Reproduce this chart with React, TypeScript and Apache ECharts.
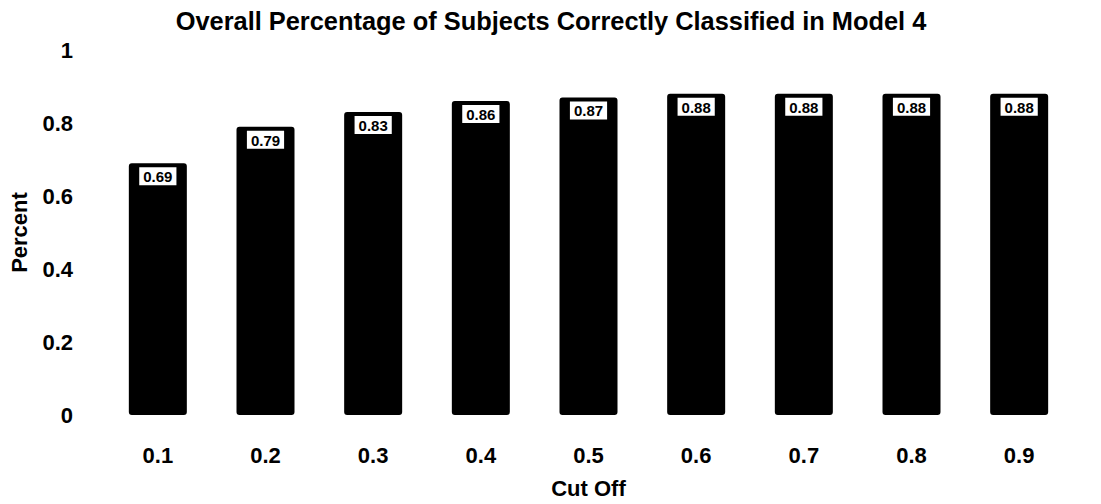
import React, { useEffect, useRef } from "react";
import * as echarts from "echarts";

const chartTitle = "Overall Percentage of Subjects Correctly Classified in Model 4";
const cutOffs = ["0.1", "0.2", "0.3", "0.4", "0.5", "0.6", "0.7", "0.8", "0.9"];
const percentCorrect = [0.69, 0.79, 0.83, 0.86, 0.87, 0.88, 0.88, 0.88, 0.88];
const xAxisName = "Cut Off";
const yAxisName = "Percent";

const FONT = '"Liberation Sans", Arial, Helvetica, sans-serif';

export default function App() {
  const ref = useRef<HTMLDivElement | null>(null);

  useEffect(() => {
    if (!ref.current) return;
    const chart = echarts.init(ref.current, undefined, { renderer: "svg" });
    chart.setOption({
      animation: false,
      backgroundColor: "#ffffff",
      title: {
        text: chartTitle,
        left: 546,
        top: 3,
        textAlign: "center",
        textStyle: {
          fontFamily: FONT,
          fontWeight: "bold",
          fontSize: 25.4,
          color: "#000",
        },
      },
      grid: { left: 93, right: 28, top: 50, bottom: 79 },
      xAxis: {
        type: "category",
        data: cutOffs,
        name: xAxisName,
        nameLocation: "middle",
        nameGap: 62,
        nameTextStyle: {
          fontFamily: FONT,
          fontWeight: "bold",
          fontSize: 22,
          color: "#000",
        },
        axisLine: { show: false },
        axisTick: { show: false },
        axisLabel: {
          margin: 29,
          fontFamily: FONT,
          fontWeight: "bold",
          fontSize: 22,
          color: "#000",
        },
      },
      yAxis: {
        type: "value",
        min: 0,
        max: 1,
        interval: 0.2,
        name: yAxisName,
        nameLocation: "middle",
        nameGap: 74,
        nameRotate: 90,
        nameTextStyle: {
          fontFamily: FONT,
          fontWeight: "bold",
          fontSize: 22,
          color: "#000",
        },
        axisLine: { show: false },
        axisTick: { show: false },
        splitLine: { show: false },
        axisLabel: {
          margin: 31,
          padding: [10, 0, 0, 0],
          fontFamily: FONT,
          fontWeight: "bold",
          fontSize: 22,
          color: "#000",
          formatter: (v: number) => String(Number(v.toFixed(1))),
        },
      },
      series: [
        {
          type: "bar",
          data: percentCorrect,
          barWidth: 58,
          itemStyle: { color: "#000", borderRadius: 3 },
          label: {
            show: true,
            position: "insideTop",
            distance: 4,
            formatter: (p: any) => Number(p.value).toFixed(2),
            fontFamily: FONT,
            fontWeight: "bold",
            fontSize: 15,
            lineHeight: 15,
            color: "#000",
            backgroundColor: "#fff",
            padding: [2, 4, 1, 4],
          },
        },
      ],
    });
    return () => chart.dispose();
  }, []);

  return (
    <div
      ref={ref}
      style={{ position: "fixed", left: 0, top: 0, width: 1101, height: 504 }}
    />
  );
}
